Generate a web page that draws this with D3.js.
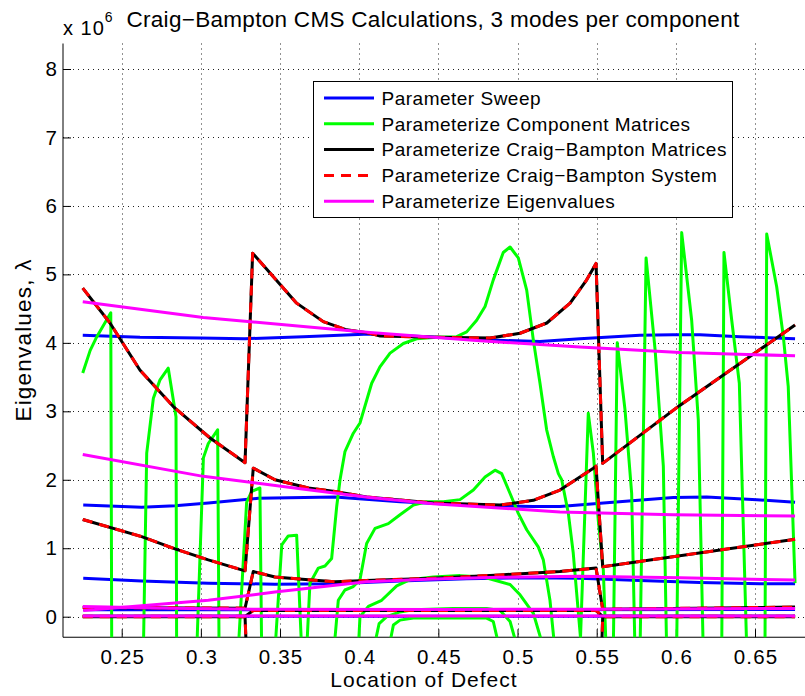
<!DOCTYPE html>
<html><head><meta charset="utf-8">
<script src="https://cdn.jsdelivr.net/npm/d3@7"></script>
<style>
body{margin:0;background:#fff}
text{font-family:"Liberation Sans",Arial,Helvetica,sans-serif;fill:#000}
</style>
</head><body>
<svg id="c" width="805" height="696"></svg>
<script>
// ---------- data (eigenvalues in units of 1e6) ----------
const titleText = "Craig\u2212Bampton CMS Calculations, 3 modes per component";
const xLabel = "Location of Defect";
const yLabel = "Eigenvalues, \u03bb";
const xTicks = [0.25, 0.3, 0.35, 0.4, 0.45, 0.5, 0.55, 0.6, 0.65];
const xTickLabels = ["0.25","0.3","0.35","0.4","0.45","0.5","0.55","0.6","0.65"];
const yTicks = [0, 1, 2, 3, 4, 5, 6, 7, 8];
const seriesNames = ["Parameter Sweep","Parameterize Component Matrices","Parameterize Craig\u2212Bampton Matrices","Parameterize Craig\u2212Bampton System","Parameterize Eigenvalues"];

// Parameter Sweep (blue)
const sweep = [
 [[0.2254,4.11],[0.2616,4.08],[0.2995,4.07],[0.3279,4.06],[0.3647,4.09],[0.4068,4.13],[0.4490,4.08],[0.4827,4.04],[0.5142,4.02],[0.5394,4.06],[0.5773,4.11],[0.5982,4.12],[0.6152,4.12],[0.6405,4.09],[0.6753,4.06]],
 [[0.2257,1.63],[0.2626,1.60],[0.2837,1.62],[0.3047,1.66],[0.3363,1.73],[0.3847,1.75],[0.4258,1.68],[0.4679,1.63],[0.5100,1.61],[0.5268,1.61],[0.5563,1.665],[0.5984,1.74],[0.6195,1.75],[0.6511,1.71],[0.6753,1.67]],
 [[0.2257,0.56],[0.2626,0.52],[0.3047,0.49],[0.3468,0.475],[0.3847,0.48],[0.4258,0.52],[0.4679,0.555],[0.5100,0.57],[0.5394,0.56],[0.5773,0.53],[0.6152,0.50],[0.6531,0.48],[0.6753,0.48]],
 [[0.2257,0.10],[0.4500,0.10],[0.6753,0.105]],
 [[0.2257,0.005],[0.6753,0.005]]
];

// Parameterize Component Matrices (green)
const compMat = [
 [[0.2254,3.56],[0.2301,3.89],[0.2343,4.09],[0.2431,4.44],[0.2437,-0.5]],
 [[0.2637,-0.5],[0.2658,2.39],[0.2700,3.19],[0.2742,3.46],[0.2794,3.63],[0.2843,2.92],[0.2847,-0.5]],
 [[0.2974,-0.5],[0.3016,2.32],[0.3047,2.53],[0.3106,2.73],[0.3115,-0.5]],
 [[0.3236,-0.5],[0.3289,1.67],[0.3321,1.83],[0.3373,1.88],[0.3384,-0.5]],
 [[0.3468,-0.5],[0.3511,1.05],[0.3552,1.18],[0.3605,1.19],[0.3637,-0.5]],
 [[0.3668,-0.5],[0.3689,0.49],[0.3742,0.71],[0.3784,0.74],[0.3826,0.85],[0.3858,1.61],[0.3879,2.0],[0.3910,2.41],[0.3963,2.68],[0.4005,2.83],[0.4079,3.41],[0.4131,3.65],[0.4195,3.85],[0.4279,3.99],[0.4363,4.06],[0.4490,4.08],[0.4616,4.09],[0.4679,4.16],[0.4742,4.33],[0.4795,4.53],[0.4847,4.92],[0.4910,5.32],[0.4953,5.40],[0.5005,5.24],[0.5058,4.77],[0.5100,4.04],[0.5142,3.41],[0.5184,2.73],[0.5226,2.34],[0.5258,2.09],[0.5279,2.0],[0.5321,1.51],[0.5352,0.93],[0.5405,-0.5]],
 [[0.3840,-0.5],[0.3868,0.24],[0.3910,0.39],[0.3963,0.44],[0.4005,0.54],[0.4047,1.07],[0.4100,1.29],[0.4184,1.36],[0.4258,1.49],[0.4342,1.63],[0.4426,1.68],[0.4531,1.68],[0.4637,1.71],[0.4721,1.85],[0.4795,2.04],[0.4858,2.14],[0.4900,2.09],[0.4953,1.80],[0.5005,1.51],[0.5058,1.27],[0.5131,1.02],[0.5163,0.83],[0.5205,0.24],[0.5237,-0.5]],
 [[0.3994,-0.5],[0.4005,0.0],[0.4058,0.15],[0.4142,0.24],[0.4237,0.45],[0.4321,0.54],[0.4468,0.58],[0.4637,0.60],[0.4784,0.58],[0.4953,0.47],[0.5016,0.32],[0.5100,0.05],[0.5170,-0.5]],
 [[0.4089,-0.5],[0.4126,-0.1],[0.4174,0.0],[0.4258,0.07],[0.4342,0.10],[0.4595,0.12],[0.4805,0.12],[0.4890,0.09],[0.4953,-0.07],[0.5005,-0.5]],
 [[0.4184,-0.5],[0.4216,-0.12],[0.4258,-0.05],[0.4342,-0.02],[0.4805,-0.02],[0.4847,-0.07],[0.4890,-0.5]],
 [[0.5395,-0.5],[0.5447,2.97],[0.5479,2.39],[0.5510,1.41],[0.5542,0.68],[0.5560,-0.5]],
 [[0.5605,-0.5],[0.5630,4.00],[0.5679,3.02],[0.5721,1.80],[0.5742,-0.5]],
 [[0.5774,-0.5],[0.5812,5.24],[0.5869,3.90],[0.5921,2.20],[0.5942,-0.5]],
 [[0.6005,-0.5],[0.6037,5.61],[0.6100,4.33],[0.6142,2.87],[0.6173,-0.5]],
 [[0.6290,-0.5],[0.6304,5.32],[0.6353,4.33],[0.6401,3.41],[0.6448,-0.5]],
 [[0.6563,-0.5],[0.6574,5.59],[0.6637,4.82],[0.6679,4.09],[0.6710,3.36],[0.6732,1.90],[0.6753,0.49]]
];

// Parameterize Craig-Bampton Matrices (black) == Parameterize Craig-Bampton System (red dashed)
const cbMatrices = [
 [[0.2254,4.80],[0.2426,4.29],[0.2616,3.60],[0.2826,3.07],[0.3058,2.61],[0.3279,2.25],[0.3327,5.31],[0.3437,5.02],[0.3605,4.58],[0.3773,4.31],[0.3921,4.19],[0.4068,4.14],[0.4133,4.10],[0.4490,4.08],[0.4827,4.07],[0.5016,4.14],[0.5185,4.29],[0.5332,4.58],[0.5437,4.92],[0.5496,5.16],[0.5538,2.24],[0.6027,3.09],[0.6753,4.26]],
 [[0.2254,1.42],[0.2626,1.17],[0.2837,0.99],[0.3047,0.83],[0.3279,0.67],[0.3331,2.17],[0.3468,2.00],[0.3679,1.88],[0.3847,1.83],[0.4047,1.75],[0.4468,1.66],[0.4890,1.63],[0.5100,1.70],[0.5268,1.85],[0.5479,2.17],[0.5496,2.20],[0.5538,0.73],[0.6753,1.13]],
 [[0.2254,0.135],[0.3279,0.125],[0.3331,0.66],[0.3468,0.58],[0.3679,0.54],[0.3847,0.51],[0.4047,0.53],[0.4468,0.56],[0.4890,0.61],[0.5268,0.66],[0.5496,0.71],[0.5538,0.11],[0.6753,0.14]],
 [[0.2254,0.005],[0.3279,0.005],[0.3331,0.09],[0.5496,0.09],[0.5538,0.005],[0.6753,0.005]],
 [[0.2254,0.0],[0.3279,0.0],[0.3331,-3.0],[0.5496,-3.0],[0.5538,0.0],[0.6753,0.0]]
];
const cbSystem = cbMatrices;

// Parameterize Eigenvalues (magenta)
const eigParam = [
 [[0.2254,4.60],[0.3015,4.37],[0.3647,4.24],[0.4068,4.15],[0.4763,4.03],[0.5394,3.94],[0.6026,3.86],[0.6753,3.81]],
 [[0.2254,2.37],[0.3015,2.05],[0.3628,1.87],[0.4068,1.74],[0.4468,1.65],[0.5268,1.53],[0.5984,1.49],[0.6753,1.47]],
 [[0.2257,0.09],[0.2626,0.16],[0.3047,0.24],[0.3468,0.36],[0.3847,0.46],[0.4047,0.51],[0.4468,0.55],[0.4890,0.575],[0.5394,0.59],[0.6026,0.57],[0.6753,0.535]],
 [[0.2254,0.15],[0.2800,0.125],[0.3331,0.108],[0.4500,0.105],[0.5500,0.11],[0.6753,0.12]],
 [[0.2254,0.01],[0.6753,0.01]]
];

// ---------- drawing ----------
const svg = d3.select("#c");
const x = d3.scaleLinear().domain([0.25, 0.65]).range([121.7, 755]);
const y = d3.scaleLinear().domain([0, 8]).range([616.7, 69]);
const L = 63, R = 820, T = 43.5, B = y(-0.3);

svg.append("defs").append("clipPath").attr("id","clip")
  .append("rect").attr("x",L).attr("y",T).attr("width",R-L).attr("height",B-T);

// grid
const grid = svg.append("g").attr("stroke","#222").attr("stroke-width",1).attr("stroke-dasharray","1,4");
grid.selectAll("line.v").data(xTicks).join("line")
  .attr("x1",d=>Math.round(x(d))+0.5).attr("x2",d=>Math.round(x(d))+0.5).attr("y1",T).attr("y2",B);
grid.selectAll("line.h").data(yTicks).join("line")
  .attr("y1",d=>Math.round(y(d))+0.5).attr("y2",d=>Math.round(y(d))+0.5).attr("x1",L).attr("x2",R);

// axes with inward ticks
const xAxis = d3.axisBottom(x).tickValues(xTicks).tickFormat((d,i)=>xTickLabels[i]).tickSizeInner(-8).tickSizeOuter(0).tickPadding(12);
const yAxis = d3.axisLeft(y).tickValues(yTicks).tickFormat(d3.format("d")).tickSizeInner(-8).tickSizeOuter(0).tickPadding(6);
const gx = svg.append("g").attr("transform",`translate(0,${B})`).call(xAxis);
const gy = svg.append("g").attr("transform",`translate(${L},0)`).call(yAxis);
gx.select(".domain").attr("d",`M${L},0H${R}`);
gy.select(".domain").attr("d",`M0,${T}V${B}`);
[gx,gy].forEach(g=>{
  g.selectAll(".domain").attr("stroke","#000").attr("stroke-width",1);
  g.selectAll(".tick line").attr("stroke","#000");
  g.selectAll(".tick text").attr("font-family","Liberation Sans, Arial, sans-serif").attr("font-size",20.5).attr("fill","#000");
});
gx.selectAll(".tick text").attr("letter-spacing","1.2px").attr("dx","0.6");

// lines
const line = d3.line().x(d=>x(d[0])).y(d=>y(d[1]));
const plot = svg.append("g").attr("clip-path","url(#clip)").attr("fill","none")
  .attr("stroke-width",3).attr("stroke-linejoin","round");
function drawSet(data, color, dash){
  plot.append("g").selectAll("path").data(data).join("path")
   .attr("d",line).attr("stroke",color).attr("stroke-dasharray",dash||null);
}
drawSet(sweep,"#0000ff");
drawSet(compMat,"#00ff00");
drawSet(cbMatrices,"#000000");
drawSet(cbSystem,"#ff0000","10,7");
drawSet(eigParam,"#ff00ff");

// title and labels
svg.append("text").attr("x",433).attr("y",26.5).attr("text-anchor","middle").attr("font-size",22.5).attr("letter-spacing","0.3px").text(titleText);
const ex = svg.append("text").attr("x",63).attr("y",35).attr("font-size",20).attr("letter-spacing","1px");
ex.append("tspan").text("x 10");
ex.append("tspan").attr("dy",-13).attr("font-size",14).text("6");
svg.append("text").attr("x",424).attr("y",687).attr("text-anchor","middle").attr("font-size",21).attr("letter-spacing","1px").text(xLabel);
svg.append("text").attr("transform","translate(31,340) rotate(-90)").attr("text-anchor","middle").attr("font-size",22.5).attr("letter-spacing","1.2px").text(yLabel);

// legend
const lg = svg.append("g");
lg.append("rect").attr("x",313.5).attr("y",81.5).attr("width",419).attr("height",136).attr("fill","#fff").attr("stroke","#000").attr("stroke-width",1);
const legColors = ["#0000ff","#00ff00","#000000","#ff0000","#ff00ff"];
const legDash = [null,null,null,"10,7",null];
seriesNames.forEach((n,i)=>{
  const yy = 98 + i*25.8;
  lg.append("line").attr("x1",324).attr("x2",374).attr("y1",yy).attr("y2",yy)
    .attr("stroke",legColors[i]).attr("stroke-width",3).attr("stroke-dasharray",legDash[i]);
  lg.append("text").attr("x",381.5).attr("y",yy+6.8).attr("font-size",19).attr("letter-spacing","0.5px").text(n);
});
</script>
</body></html>
